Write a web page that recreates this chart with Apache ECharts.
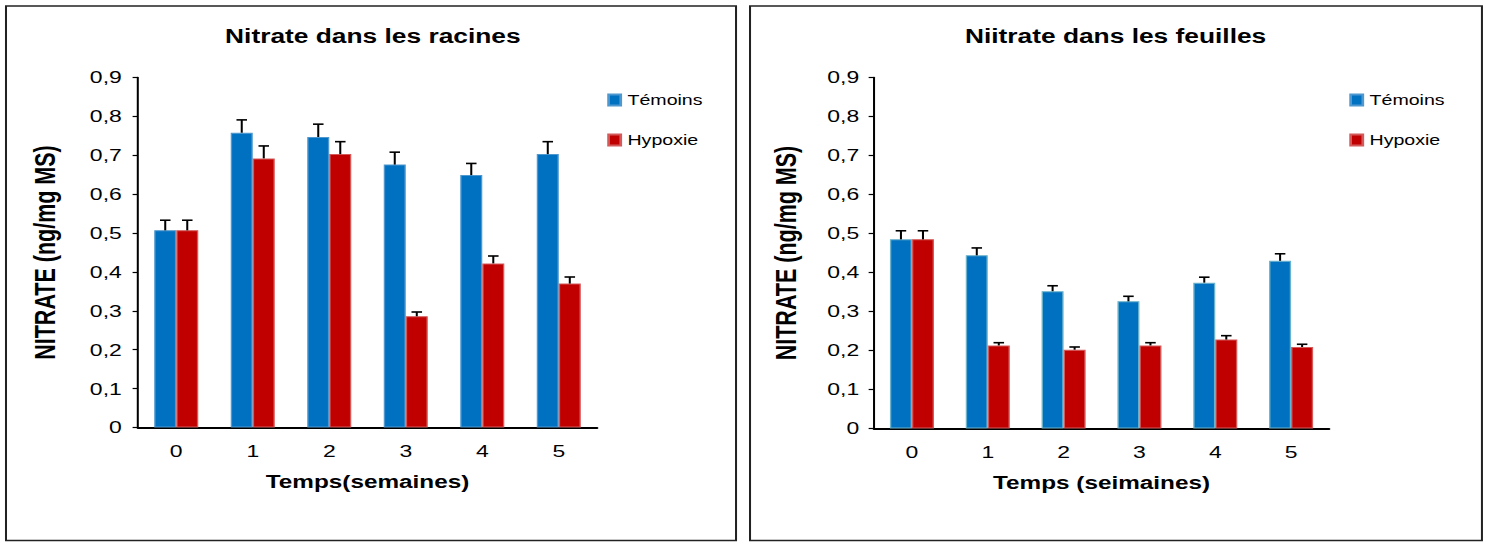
<!DOCTYPE html>
<html><head><meta charset="utf-8">
<script src="https://cdn.jsdelivr.net/npm/echarts@6/dist/echarts.min.js"></script>
<style>
html,body{margin:0;padding:0;background:#fff;overflow:hidden;}
#wrap{width:1486px;height:542px;overflow:hidden;position:relative;}
#chart{width:1100px;height:542px;transform:scaleX(1.350909);transform-origin:0 0;}
</style></head><body><div id="wrap"><div id="chart"></div></div>
<script>
// ---- data ----
const categories = ['0', '1', '2', '3', '4', '5'];
const seriesNames = ['Témoins', 'Hypoxie'];
const rootsTemoins      = [0.507, 0.758, 0.747, 0.676, 0.649, 0.703];
const rootsTemoinsErr   = [0.026, 0.033, 0.033, 0.032, 0.030, 0.032];
const rootsHypoxie      = [0.507, 0.692, 0.703, 0.286, 0.422, 0.370];
const rootsHypoxieErr   = [0.026, 0.032, 0.032, 0.011, 0.019, 0.017];
const leavesTemoins     = [0.485, 0.444, 0.352, 0.326, 0.374, 0.430];
const leavesTemoinsErr  = [0.022, 0.019, 0.014, 0.013, 0.014, 0.018];
const leavesHypoxie     = [0.485, 0.213, 0.202, 0.213, 0.228, 0.209];
const leavesHypoxieErr  = [0.022, 0.007, 0.007, 0.007, 0.010, 0.007];
const titles = ['Nitrate dans les racines', 'Niitrate dans les feuilles'];
const xNames = ['Temps(semaines)', 'Temps (seimaines)'];
const yName = 'NITRATE (ng/mg MS)';

// ---- layout / style ----
const FONT = '"Liberation Sans", Arial, sans-serif';
const BAR_W = 16.3;
const CAP_W = 7.8;
const BLUE = '#0070C0', RED = '#C00000';

const chart = echarts.init(document.getElementById('chart'), null, {renderer: 'svg'});

function fmt(v) { return v === 0 ? '0' : v.toFixed(1).replace('.', ','); }

function errRenderer(side) {
  return function (params, api) {
    const x = api.value(0), v = api.value(1), e = api.value(2);
    const base = api.coord([x, v]);
    const top = api.coord([x, v + e]);
    const cx = base[0] + side * BAR_W / 2;
    return {
      type: 'group', children: [
        {type: 'line', shape: {x1: cx, y1: base[1], x2: cx, y2: top[1]}, style: {stroke: '#000', lineWidth: 1.5}},
        {type: 'line', shape: {x1: cx - CAP_W / 2, y1: top[1], x2: cx + CAP_W / 2, y2: top[1]}, style: {stroke: '#000', lineWidth: 1.6}}
      ]
    };
  };
}
function errData(vals, errs) { return vals.map((v, i) => [i, v, errs[i]]); }

const grids = [
  {left: 102.15, top: 77.5, width: 339.8, height: 350},
  {left: 647.0, top: 77.5, width: 336.8, height: 351}
];
const yNameGaps = [58, 54];
const yLabelMargins = [12, 11];

function xAxis(i) {
  return {
    gridIndex: i, type: 'category', data: categories,
    axisLine: {lineStyle: {color: '#000', width: 2}},
    axisTick: {length: 5, lineStyle: {color: '#000', width: 1.5}},
    axisLabel: {color: '#000', fontSize: 17, margin: 15, fontFamily: FONT},
    name: xNames[i], nameLocation: 'middle', nameGap: 46,
    nameTextStyle: {fontWeight: 'bold', fontSize: 18, color: '#000', fontFamily: FONT}
  };
}
function yAxis(i) {
  return {
    gridIndex: i, type: 'value', min: 0, max: 0.9, interval: 0.1,
    splitLine: {show: false},
    axisLine: {show: true, lineStyle: {color: '#000', width: 1.5}},
    axisTick: {show: true, length: 4, lineStyle: {color: '#000', width: 1.2}},
    axisLabel: {color: '#000', fontSize: 17, margin: yLabelMargins[i], fontFamily: FONT, formatter: fmt},
    name: yName, nameLocation: 'middle', nameGap: yNameGaps[i], nameRotate: 90,
    nameTextStyle: {fontWeight: 'bold', fontSize: 21.5, color: '#000', fontFamily: FONT}
  };
}

const blueBorder = ['#4f98cf', '#6bb3cc'];
function bars(i, tem, hyp) {
  return [
    {name: seriesNames[0], type: 'bar', xAxisIndex: i, yAxisIndex: i, data: tem, barWidth: BAR_W, barGap: '0%',
      itemStyle: {color: BLUE, borderColor: blueBorder[i], borderWidth: 1}, z: 2, animation: false},
    {name: seriesNames[1], type: 'bar', xAxisIndex: i, yAxisIndex: i, data: hyp, barWidth: BAR_W, barGap: '0%',
      itemStyle: {color: RED, borderColor: '#d45a5a', borderWidth: 1}, z: 2, animation: false}
  ];
}
function errs(i, temV, temE, hypV, hypE) {
  return [
    {type: 'custom', xAxisIndex: i, yAxisIndex: i, renderItem: errRenderer(-1), data: errData(temV, temE),
      encode: {x: 0, y: 1}, z: 5, animation: false, silent: true},
    {type: 'custom', xAxisIndex: i, yAxisIndex: i, renderItem: errRenderer(1), data: errData(hypV, hypE),
      encode: {x: 0, y: 1}, z: 5, animation: false, silent: true}
  ];
}

function legend(left) {
  return {
    orient: 'vertical', left: left, top: 92, padding: 0, itemGap: 24, icon: 'rect', itemWidth: 9, itemHeight: 11,
    data: seriesNames, textStyle: {fontSize: 14.5, color: '#000', fontFamily: FONT, lineHeight: 16}
  };
}

chart.setOption({
  backgroundColor: '#fff',
  animation: false,
  title: [
    {text: titles[0], left: 276, top: 26, padding: 0, textAlign: 'center', textStyle: {fontSize: 19.5, fontWeight: 'bold', color: '#000', fontFamily: FONT}},
    {text: titles[1], left: 825.8, top: 26, padding: 0, textAlign: 'center', textStyle: {fontSize: 19.5, fontWeight: 'bold', color: '#000', fontFamily: FONT}}
  ],
  legend: [legend(449.5), legend(998.8)],
  grid: grids,
  xAxis: [xAxis(0), xAxis(1)],
  yAxis: [yAxis(0), yAxis(1)],
  graphic: [
    {type: 'rect', shape: {x: 4.44, y: 6, width: 540.4, height: 534.5}, style: {fill: 'none', stroke: '#222', lineWidth: 1.5}, silent: true, z: -1},
    {type: 'rect', shape: {x: 555.2, y: 6, width: 541.8, height: 534.5}, style: {fill: 'none', stroke: '#222', lineWidth: 1.5}, silent: true, z: -1}
  ],
  series: [
    ...bars(0, rootsTemoins, rootsHypoxie),
    ...bars(1, leavesTemoins, leavesHypoxie),
    ...errs(0, rootsTemoins, rootsTemoinsErr, rootsHypoxie, rootsHypoxieErr),
    ...errs(1, leavesTemoins, leavesTemoinsErr, leavesHypoxie, leavesHypoxieErr)
  ]
});
</script></body></html>
